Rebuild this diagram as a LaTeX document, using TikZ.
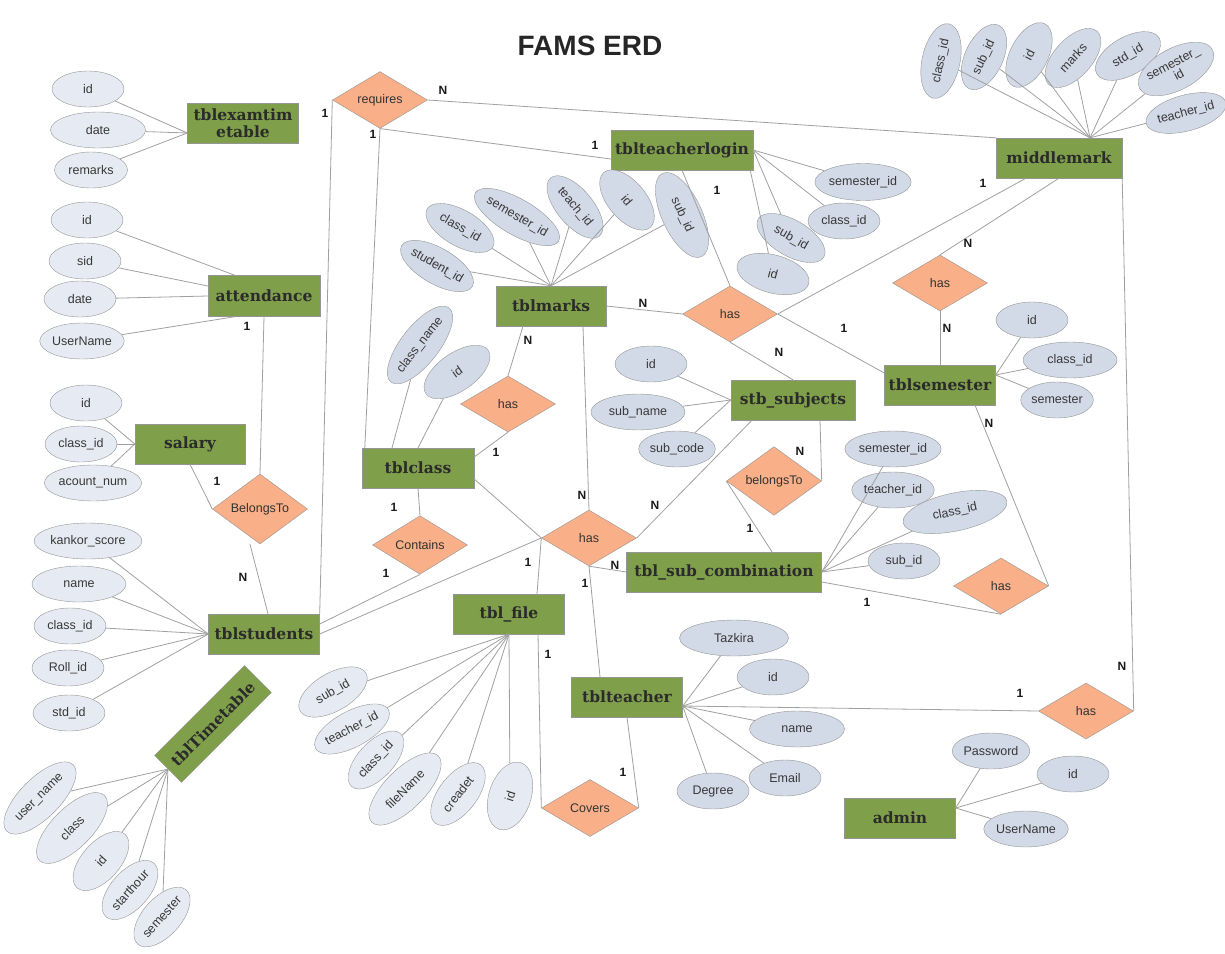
\documentclass[tikz,border=0pt]{standalone}
\usepackage{fontspec}
\setmainfont{Liberation Sans}
\newfontfamily\entityfont{DejaVu Serif}
\usepackage{xcolor}
\definecolor{colorEntity}{HTML}{7F9F4B}
\definecolor{colorEntityText}{HTML}{2B2B2B}
\definecolor{colorRelation}{HTML}{F9AF87}
\definecolor{colorAttribute}{HTML}{D2D9E7}
\definecolor{colorAttributeLight}{HTML}{E6EAF2}
\definecolor{colorBorder}{HTML}{959595}
\definecolor{colorLine}{HTML}{A0A0A0}
\usepackage{tikz}
\usetikzlibrary{shapes.geometric, positioning}
\tikzset{
  entity/.style={draw=colorBorder, fill=colorEntity, minimum width=111pt, minimum height=40pt, inner sep=1pt, align=center,
    font=\entityfont\bfseries\fontsize{15.5}{17}\selectfont, text=colorEntityText},
  relation/.style={diamond, draw=colorBorder, fill=colorRelation, minimum width=95pt, minimum height=56pt, inner sep=0pt,
    font=\fontsize{12.5}{14}\selectfont, text=black!80},
  attribute/.style={ellipse, draw=colorBorder, fill=colorAttribute, minimum width=72pt, minimum height=36pt, inner sep=0pt,
    align=center, font=\fontsize{12.5}{12}\selectfont, text=black!78},
  attributeL/.style={attribute, fill=colorAttributeLight},
  card/.style={font=\bfseries\fontsize{12}{13}\selectfont, inner sep=0pt, text=black!90},
  link/.style={draw=colorLine, line width=0.8pt}
}

\begin{document}
\begin{tikzpicture}[x=1pt, y=-1pt]
\useasboundingbox (0,0) rectangle (1225,953);
\node[font=\bfseries\fontsize{28}{30}\selectfont, text=black!85] (title) at (590,46) {FAMS ERD};

\node[entity] (exam) at (243,123) {tblexamtim\\etable};
\node[entity, minimum width=112pt, minimum height=41pt] (attend) at (264,296) {attendance};
\node[entity, minimum width=110pt] (salary) at (190,444) {salary};
\node[entity] (students) at (264,634) {tblstudents};
\node[entity, minimum width=127pt, minimum height=38pt, rotate=45] (timetable) at (213,724) {tblTimetable};
\node[entity, minimum width=142pt] (login) at (682,150) {tblteacherlogin};
\node[entity, minimum width=126pt] (middle) at (1059,158) {middlemark};
\node[entity, minimum width=110pt] (marks) at (551,306) {tblmarks};
\node[entity, minimum width=124pt] (subjects) at (793,400) {stb\_subjects};
\node[entity] (semester) at (940,385) {tblsemester};
\node[entity, minimum width=112pt] (class) at (418,468) {tblclass};
\node[entity, minimum width=195pt] (subcomb) at (724,572) {tbl\_sub\_combination};
\node[entity] (file) at (509,614) {tbl\_file};
\node[entity] (teacher) at (627,697) {tblteacher};
\node[entity] (admin) at (900,818) {admin};

\node[relation, minimum height=55pt] (requires) at (380,100) {requires};
\node[relation] (belongs) at (260,509) {BelongsTo};
\node[relation] (hasClass) at (508,404) {has};
\node[relation] (contains) at (420,545) {Contains};
\node[relation] (hasCentral) at (589,538) {has};
\node[relation, minimum width=97pt, minimum height=57pt] (covers) at (590,808) {Covers};
\node[relation] (hasLogin) at (730,314) {has};
\node[relation] (hasSem) at (940,283) {has};
\node[relation] (belongsTo) at (774,481) {belongsTo};
\node[relation] (hasComb) at (1001,586) {has};
\node[relation] (hasAdmin) at (1086,711) {has};

\node[attributeL] (examId) at (88,89) {id};
\node[attributeL, minimum width=95pt] (examDate) at (98,130) {date};
\node[attributeL, minimum width=73pt] (examRemarks) at (91,170) {remarks};
\draw[link] ([yshift=-10pt]exam.west) edge (examId) edge (examDate) edge (examRemarks);

\node[attributeL] (attId) at (87,220) {id};
\node[attributeL] (attSid) at (85,261) {sid};
\node[attributeL] (attDate) at (80,299) {date};
\node[attributeL, minimum width=74pt] (attUser) at (82,341) {UserName};
\draw[link] (attId) -- ([xshift=-29pt]attend.north);
\draw[link] (attSid) -- ([yshift=10pt]attend.west);
\draw[link] (attDate) -- (attend.west);
\draw[link] (attUser) -- ([xshift=-29pt]attend.south);

\node[attributeL] (salId) at (86,403) {id};
\node[attributeL] (salClass) at (81,444) {class\_id};
\node[attributeL, minimum width=93pt] (salAcount) at (93,483) {acount\_num};
\draw[link] (salary.west) edge (salId) edge (salClass) edge (salAcount);

\node[attributeL, minimum width=108pt] (stdKankor) at (88,541) {kankor\_score};
\node[attributeL, minimum width=94pt] (stdName) at (79,584) {name};
\node[attributeL] (stdClass) at (70,626) {class\_id};
\node[attributeL] (stdRoll) at (68,668) {Roll\_id};
\node[attributeL] (stdId) at (69,713) {std\_id};
\draw[link] (students.west) edge (stdKankor) edge (stdName) edge (stdClass) edge (stdRoll) edge (stdId);

\node[attributeL, minimum width=94pt, minimum height=40pt, rotate=45] (ttUser) at (40,798) {user\_name};
\node[attributeL, minimum width=92pt, minimum height=40pt, rotate=45] (ttClass) at (72,828) {class};
\node[attributeL, minimum height=38pt, rotate=48] (ttId) at (101,861) {id};
\node[attributeL, minimum height=38pt, rotate=48] (ttStart) at (130,890) {starthour};
\node[attributeL, minimum height=38pt, rotate=48] (ttSem) at (162,917) {semester};
\draw[link] (timetable.west) edge (ttUser) edge (ttClass) edge (ttId) edge (ttStart) edge (ttSem);

\node[attribute, minimum width=76pt, rotate=-30] (mkStudent) at (437,266) {student\_id};
\node[attribute, minimum width=76pt, rotate=-30] (mkClass) at (460,228) {class\_id};
\node[attribute, minimum width=90pt, rotate=-30] (mkSem) at (517,217) {semester\_id};
\node[attribute, minimum width=76pt, rotate=-50] (mkTeach) at (575,207) {teach\_id};
\node[attribute, minimum height=38pt, rotate=-50] (mkId) at (627,200) {id};
\node[attribute, minimum width=92pt, minimum height=40pt, rotate=-65] (mkSub) at (682,215) {sub\_id};
\draw[link] (marks.north) edge (mkStudent) edge (mkClass) edge (mkSem) edge (mkTeach) edge (mkId) edge (mkSub);

\node[attribute, minimum width=91pt, minimum height=37pt] (lgSem) at (863,182) {semester\_id};
\node[attribute] (lgClass) at (844,221) {class\_id};
\node[attribute, minimum width=76pt, rotate=-30] (lgSub) at (791,238) {sub\_id};
\node[attribute, minimum width=74pt, minimum height=38pt, rotate=-15] (lgId) at (773,274) {id};
\draw[link] (login.east) edge (lgSem) edge (lgClass) edge (lgSub);
\draw[link] ([xshift=-3pt]login.south east) -- (lgId);

\node[attribute, minimum width=76pt, minimum height=38pt, rotate=78] (mmClass) at (941,61) {class\_id};
\node[attribute, minimum width=70pt, minimum height=38pt, rotate=65] (mmSub) at (984,57) {sub\_id};
\node[attribute, minimum width=70pt, minimum height=38pt, rotate=63] (mmId) at (1029,55) {id};
\node[attribute, minimum height=38pt, rotate=48] (mmMarks) at (1073,58) {marks};
\node[attribute, minimum height=38pt, rotate=30] (mmStd) at (1128,56) {std\_id};
\node[attribute, minimum width=70pt, minimum height=42pt, rotate=28, font=\fontsize{12.5}{12.5}\selectfont] (mmSem) at (1176,69) {semester\_\\id};
\node[attribute, minimum width=74pt, rotate=15] (mmTeacher) at (1186,113) {teacher\_id};
\draw[link] ([xshift=31pt]middle.north) edge (mmClass) edge (mmSub) edge (mmId) edge (mmMarks) edge (mmStd) edge (mmSem) edge (mmTeacher);

\node[attribute] (smId) at (1032,320) {id};
\node[attribute, minimum width=94pt] (smClass) at (1070,360) {class\_id};
\node[attribute] (smSem) at (1057,400) {semester};
\draw[link] ([yshift=10pt]semester.east) edge (smId) edge (smClass) edge (smSem);

\node[attribute] (sbId) at (651,364) {id};
\node[attribute, minimum width=94pt] (sbName) at (638,412) {sub\_name};
\node[attribute] (sbCode) at (677,449) {sub\_code};
\draw[link] (subjects.west) edge (sbId) edge (sbName) edge (sbCode);

\node[attribute, minimum width=95pt] (scSem) at (893,449) {semester\_id};
\node[attribute] (scTeacher) at (893,490) {teacher\_id};
\node[attribute, minimum width=106pt, minimum height=38pt, rotate=12] (scClass) at (955,512) {class\_id};
\node[attribute] (scSub) at (904,561) {sub\_id};
\draw[link] (subcomb.east) edge (scSem) edge (scTeacher) edge (scClass) edge (scSub);

\node[attribute, minimum width=109pt] (tcTazkira) at (734,638) {Tazkira};
\node[attribute] (tcId) at (773,677) {id};
\node[attribute, minimum width=95pt] (tcName) at (797,729) {name};
\node[attribute] (tcEmail) at (785,778) {Email};
\node[attribute] (tcDegree) at (713,791) {Degree};
\draw[link] ([yshift=-9pt]teacher.east) edge (tcTazkira) edge (tcId) edge (tcName) edge (tcEmail) edge (tcDegree);

\node[attribute] (adPass) at (991,751) {Password};
\node[attribute] (adId) at (1073,774) {id};
\node[attribute] (adUser) at (1026,829) {UserName};
\draw[link] ([yshift=10pt]admin.east) edge (adPass) edge (adId) edge (adUser);

\node[attributeL, minimum width=76pt, minimum height=38pt, rotate=30] (flSub) at (333,692) {sub\_id};
\node[attributeL, minimum width=76pt, rotate=28] (flTeacher) at (352,729) {teacher\_id};
\node[attributeL, rotate=47] (flClass) at (376,760) {class\_id};
\node[attributeL, minimum width=94pt, minimum height=40pt, rotate=45] (flName) at (405,789) {fileName};
\node[attributeL, minimum width=74pt, minimum height=38pt, rotate=52] (flCreadet) at (458,794) {creadet};
\node[attributeL, minimum width=70pt, minimum height=42pt, rotate=72] (flId) at (510,796) {id};
\draw[link] (file.south) edge (flSub) edge (flTeacher) edge (flClass) edge (flName) edge (flCreadet) edge (flId);

\node[attribute, minimum width=92pt, minimum height=38pt, rotate=52] (clName) at (420,345) {class\_name};
\node[attribute, minimum width=76pt, minimum height=38pt, rotate=35] (clId) at (457,372) {id};
\draw[link] (clName) -- ([xshift=-26pt]class.north);
\draw[link] (clId) -- (class.north);

\draw[link] (requires.west) -- (students.north east);
\draw[link] (requires.south) -- ([xshift=3pt]class.north west);
\draw[link] (requires.south) -- ([yshift=-9pt]login.west);
\draw[link] (requires.east) -- (middle.north west);
\draw[link] (attend.south) -- (belongs.north);
\draw[link] (salary.south) -- (belongs.west);
\draw[link] ([xshift=-10pt]belongs.south) -- ([xshift=4pt]students.north);
\draw[link] ([xshift=-28pt]marks.south) -- (hasClass.north);
\draw[link] (hasClass.south) -- ([yshift=11pt]class.east);
\draw[link] (class.south) -- (contains.north);
\draw[link] (contains.south) -- ([yshift=10pt]students.east);
\draw[link] (hasCentral.west) edge (students.east) edge ([yshift=-11pt]class.east) edge ([xshift=28pt]file.north);
\draw[link] ([xshift=32pt]marks.south) -- (hasCentral.north);
\draw[link] (hasCentral.east) -- ([xshift=-41pt]subjects.south);
\draw[link] (hasCentral.south) edge (subcomb.west) edge ([xshift=-27pt]teacher.north);
\draw[link] ([xshift=29pt]file.south) -- (covers.west);
\draw[link] (teacher.south) -- (covers.east);
\draw[link] (marks.east) -- (hasLogin.west);
\draw[link] (login.south) -- (hasLogin.north);
\draw[link] (hasLogin.east) edge ([xshift=-33pt]middle.south) edge ([yshift=12pt]semester.west);
\draw[link] (hasLogin.south) -- (subjects.north);
\draw[link] (middle.south) -- (hasSem.north);
\draw[link] (hasSem.south) -- (semester.north);
\draw[link] ([xshift=35pt]semester.south) -- (hasComb.east);
\draw[link] ([yshift=-10pt]subcomb.east) -- (hasComb.south);
\draw[link] ([xshift=27pt]subjects.south) -- (belongsTo.east);
\draw[link] (belongsTo.west) -- ([xshift=48pt]subcomb.north);
\draw[link] (middle.south east) -- (hasAdmin.east);
\draw[link] ([yshift=-9pt]teacher.east) -- (hasAdmin.west);

\node[card] (c1) at (325,113) {1};
\node[card] (c2) at (373,134) {1};
\node[card] (c3) at (595,145) {1};
\node[card] (c4) at (443,90) {N};
\node[card] (c5) at (247,326) {1};
\node[card] (c6) at (217,481) {1};
\node[card] (c7) at (243,577) {N};
\node[card] (c8) at (528,340) {N};
\node[card] (c9) at (496,452) {1};
\node[card] (c10) at (394,507) {1};
\node[card] (c11) at (386,573) {1};
\node[card] (c12) at (528,562) {1};
\node[card] (c13) at (582,495) {N};
\node[card] (c14) at (655,505) {N};
\node[card] (c15) at (615,565) {N};
\node[card] (c16) at (585,583) {1};
\node[card] (c17) at (548,654) {1};
\node[card] (c18) at (623,772) {1};
\node[card] (c19) at (643,303) {N};
\node[card] (c20) at (717,190) {1};
\node[card] (c21) at (983,183) {1};
\node[card] (c22) at (844,328) {1};
\node[card] (c23) at (779,352) {N};
\node[card] (c24) at (968,243) {N};
\node[card] (c25) at (947,328) {N};
\node[card] (c26) at (989,423) {N};
\node[card] (c27) at (867,602) {1};
\node[card] (c28) at (800,451) {N};
\node[card] (c29) at (750,528) {1};
\node[card] (c30) at (1122,666) {N};
\node[card] (c31) at (1020,693) {1};
\end{tikzpicture}
\end{document}
